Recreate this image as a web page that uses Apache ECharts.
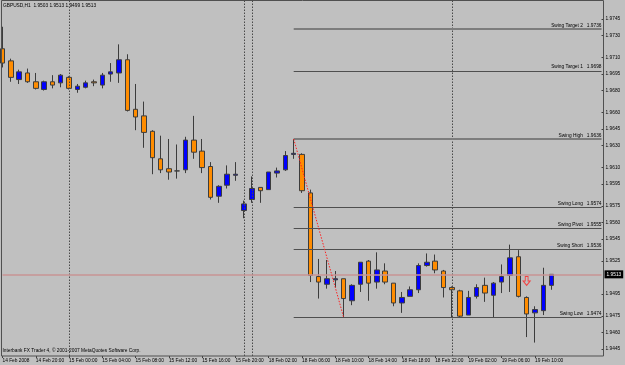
<!DOCTYPE html>
<html><head><meta charset="utf-8">
<script src="https://cdn.jsdelivr.net/npm/echarts@6/dist/echarts.min.js"></script>
<style>html,body{margin:0;padding:0;background:#c0c0c0;}#c{width:625px;height:365px;}</style>
</head><body><div id="c"></div><script>
// ---- data ----
const categories = [
 '14 Feb 2008','14 Feb 17:00','14 Feb 18:00','14 Feb 19:00','14 Feb 20:00','14 Feb 21:00','14 Feb 22:00','14 Feb 23:00',
 '15 Feb 00:00','15 Feb 01:00','15 Feb 02:00','15 Feb 03:00','15 Feb 04:00','15 Feb 05:00','15 Feb 06:00','15 Feb 07:00',
 '15 Feb 08:00','15 Feb 09:00','15 Feb 10:00','15 Feb 11:00','15 Feb 12:00','15 Feb 13:00','15 Feb 14:00','15 Feb 15:00',
 '15 Feb 16:00','15 Feb 17:00','15 Feb 18:00','15 Feb 19:00','15 Feb 20:00',
 '17 Feb 23:00',
 '18 Feb 00:00','18 Feb 01:00','18 Feb 02:00','18 Feb 03:00','18 Feb 04:00','18 Feb 05:00','18 Feb 06:00','18 Feb 07:00',
 '18 Feb 08:00','18 Feb 09:00','18 Feb 10:00','18 Feb 11:00','18 Feb 12:00','18 Feb 13:00','18 Feb 14:00','18 Feb 15:00',
 '18 Feb 16:00','18 Feb 17:00','18 Feb 18:00','18 Feb 19:00','18 Feb 20:00','18 Feb 21:00','18 Feb 22:00','18 Feb 23:00',
 '19 Feb 00:00','19 Feb 01:00','19 Feb 02:00','19 Feb 03:00','19 Feb 04:00','19 Feb 05:00','19 Feb 06:00','19 Feb 07:00',
 '19 Feb 08:00','19 Feb 09:00','19 Feb 10:00','19 Feb 11:00','19 Feb 12:00',
 '19 Feb 13:00','19 Feb 14:00','19 Feb 15:00','19 Feb 16:00','19 Feb 17:00','19 Feb 18:00'
];
const lastLabelledIndex = 64;

const open  = [1.9718,1.9707,1.9690,1.9696,1.9688,1.9681,1.9688,1.9687,1.9692,1.9681,1.9683,1.9688,1.9685,1.9695,1.9696,1.9708,1.9663,1.9657,1.9643,1.9618,1.9609,1.9607,1.9608,1.9635,1.9625,1.9611,1.9584,1.9594,1.9603,1.9571,1.9581,1.9592,1.9590,1.9605,1.9608,1.9622,1.9622,1.9587,1.9511,1.9504,1.9508,1.9509,1.9489,1.9504,1.9525,1.9506,1.9516,1.9505,1.9487,1.9493,1.9499,1.9521,1.9525,1.9516,1.9501,1.9498,1.9476,1.9493,1.9503,1.9494,1.9506,1.9512,1.9529,1.9492,1.9478,1.9480,1.9503];
const high  = [1.9738,1.9709,1.9699,1.9700,1.9696,1.9689,1.9694,1.9695,1.9693,1.9686,1.9689,1.9690,1.9696,1.9705,1.9722,1.9713,1.9686,1.9670,1.9644,1.9639,1.9636,1.9631,1.9638,1.9657,1.9636,1.9615,1.9594,1.9612,1.9615,1.9580,1.9602,1.9592,1.9606,1.9610,1.9625,1.9636,1.9623,1.9590,1.9527,1.9526,1.9516,1.9509,1.9504,1.9524,1.9526,1.9533,1.9523,1.9505,1.9497,1.9502,1.9523,1.9532,1.9531,1.9517,1.9502,1.9499,1.9498,1.9504,1.9510,1.9506,1.9522,1.9540,1.9535,1.9493,1.9484,1.9519,1.9513];
const low   = [1.9701,1.9688,1.9686,1.9687,1.9681,1.9680,1.9682,1.9683,1.9681,1.9678,1.9682,1.9684,1.9682,1.9688,1.9687,1.9661,1.9644,1.9628,1.9604,1.9605,1.9599,1.9600,1.9605,1.9618,1.9605,1.9581,1.9578,1.9591,1.9598,1.9564,1.9578,1.9578,1.9590,1.9601,1.9607,1.9618,1.9587,1.9506,1.9491,1.9500,1.9501,1.9474,1.9485,1.9497,1.9489,1.9500,1.9504,1.9484,1.9478,1.9493,1.9496,1.9520,1.9514,1.9492,1.9474,1.9474,1.9476,1.9491,1.9488,1.9474,1.9496,1.9497,1.9492,1.9456,1.9451,1.9476,1.9499];
const close = [1.9705,1.9692,1.9697,1.9688,1.9682,1.9688,1.9685,1.9694,1.9682,1.9684,1.9687,1.9687,1.9694,1.9697,1.9708,1.9662,1.9656,1.9642,1.9619,1.9608,1.9606,1.9607,1.9635,1.9624,1.9610,1.9583,1.9593,1.9604,1.9604,1.9577,1.9591,1.9589,1.9606,1.9607,1.9621,1.9623,1.9589,1.9512,1.9506,1.9509,1.9509,1.9491,1.9503,1.9524,1.9505,1.9517,1.9506,1.9487,1.9492,1.9499,1.9521,1.9524,1.9517,1.9501,1.9499,1.9475,1.9492,1.9501,1.9496,1.9505,1.9511,1.9528,1.9493,1.9477,1.9481,1.9503,1.9513];

const yTickValues = [1.9745,1.9730,1.9710,1.9695,1.9680,1.9660,1.9645,1.9630,1.9610,1.9595,1.9575,1.9560,1.9545,1.9525,1.9495,1.9475,1.9460,1.9445];

const swingNames  = ['Swing Target 2','Swing Target 1','Swing High','Swing Long','Swing Pivot','Swing Short','Swing Low'];
const swingValues = [1.9736,1.9698,1.9636,1.9574,1.9555,1.9536,1.9474];
const swingStartIndex = 35;
const swingEndIndex = 72;
const swingLegFrom = [35, 1.9636];
const swingLegTo   = [41, 1.9474];
const separatorIndex = [8, 29, 30, 54];
const currentPrice = 1.9513;
const sellArrow = [[63, 1.9507]];
const headerText = 'GBPUSD,H1  1.9503 1.9513 1.9499 1.9513';
const footerText = 'Interbank FX Trader 4, \u00a9 2001-2007 MetaQuotes Software Corp.';

// ---- chart ----
const FONT = 'Liberation Sans';
const FS = 4.8;
const candleData = open.map((o, i) => [o, close[i], low[i], high[i]]);

const markData = [];
separatorIndex.forEach(ix => markData.push({
  xAxis: ix, lineStyle: {type: [1.5, 1.5], color: '#4a4a4a', width: 1}, label: {show: false}
}));
swingNames.forEach((name, i) => {
  const light = (name === 'Swing Target 2' || name === 'Swing High');
  markData.push([
    {coord: [swingStartIndex, swingValues[i]],
     lineStyle: {type: 'solid', color: light ? '#7d7d7d' : '#4f4f4f', width: light ? 1.8 : 1},
     label: {show: true, position: 'insideEndTop', distance: [0, 1.2],
             formatter: name + '   ' + swingValues[i].toFixed(4),
             fontSize: FS, fontFamily: FONT, color: '#000'}},
    {coord: [swingEndIndex, swingValues[i]]}
  ]);
});
markData.push({
  yAxis: currentPrice, lineStyle: {type: 'solid', color: '#c99595', width: 1.6},
  label: {show: true, position: 'end', distance: 3, formatter: currentPrice.toFixed(4),
          backgroundColor: '#000', color: '#fff', padding: [2, 2, 1, 2], fontSize: FS, fontFamily: FONT}
});
markData.push([
  {coord: swingLegFrom, lineStyle: {type: [1.5, 1.5], color: '#ff2020', width: 1}, label: {show: false}},
  {coord: swingLegTo}
]);

const chart = echarts.init(document.getElementById('c'), null, {renderer: 'canvas'});
chart.setOption({
  animation: false,
  backgroundColor: '#c0c0c0',
  grid: {left: 2.5, right: 23.46, top: 1, bottom: 9, containLabel: false, outerBoundsMode: 'none'},
  xAxis: {
    type: 'category', data: categories, boundaryGap: false,
    axisLine: {show: false},
    axisTick: {show: true, length: 2, lineStyle: {color: '#404040'},
               interval: (i) => i % 4 === 0 && i <= lastLabelledIndex},
    axisLabel: {interval: (i) => i % 4 === 0 && i <= lastLabelledIndex,
                align: 'left', margin: 2, fontSize: FS, fontFamily: FONT, color: '#000'},
    splitLine: {show: false}
  },
  yAxis: {
    type: 'value', position: 'right', min: 1.94388, max: 1.97614, scale: true,
    axisLine: {show: false},
    splitLine: {show: false},
    axisTick: {show: true, length: 2.5, customValues: yTickValues, lineStyle: {color: '#404040'}},
    axisLabel: {customValues: yTickValues, formatter: v => v.toFixed(4), margin: 4,
                fontSize: FS, fontFamily: FONT, color: '#000'}
  },
  series: [
    {
      type: 'candlestick', name: 'GBPUSD,H1', data: candleData, clip: false,
      barWidth: 5,
      itemStyle: {color: '#0000ff', color0: '#ff8c00', borderColor: '#3c3c3c', borderColor0: '#3c3c3c',
                  borderColorDoji: '#3c3c3c', borderWidth: 1},
      markLine: {silent: true, symbol: ['none', 'none'], animation: false, precision: 6, data: markData}
    },
    {
      type: 'scatter', data: sellArrow, clip: false, silent: true,
      symbol: 'path://M3,0 L7,0 L7,5 L10,5 L5,10 L0,5 L3,5 Z',
      symbolSize: [7, 9],
      itemStyle: {color: 'rgba(0,0,0,0)', borderColor: '#ff2020', borderWidth: 1}
    }
  ],
  graphic: [
    {type: 'rect', shape: {x: 1.5, y: 0.5, width: 602, height: 355.5}, silent: true,
     style: {fill: 'none', stroke: '#505050', lineWidth: 1}, z: 100},
    {type: 'text', left: 3, top: 3, silent: true,
     style: {text: headerText, fontSize: FS, fontFamily: FONT, fill: '#000'}},
    {type: 'text', left: 2.5, top: 348.5, silent: true,
     style: {text: footerText, fontSize: FS, fontFamily: FONT, fill: '#000'}}
  ]
});
</script></body></html>
